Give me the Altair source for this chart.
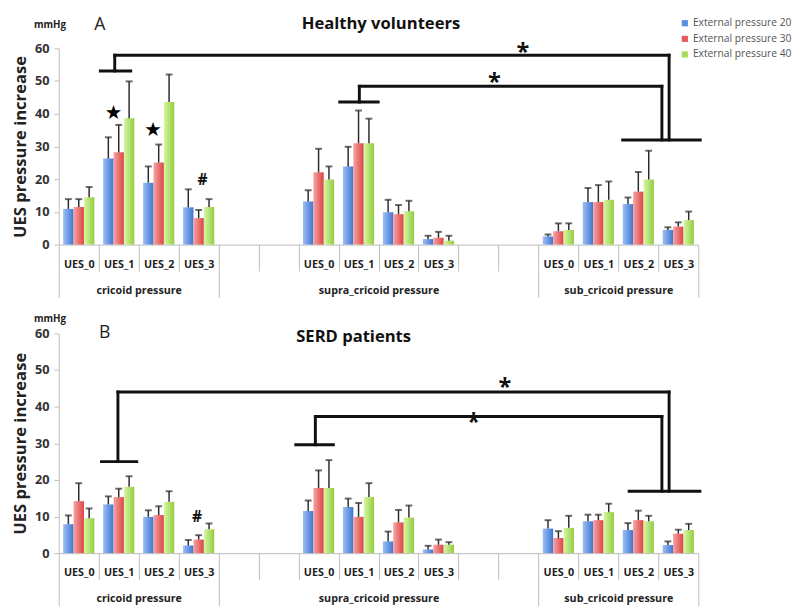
import json
import altair as alt
import pandas as pd

# ---------------- data ----------------
slots = ["c0", "c1", "c2", "c3", "e1", "e2", "p0", "p1", "p2", "p3", "e3", "e4", "s0", "s1", "s2", "s3"]
slot_labels = ["UES_0", "UES_1", "UES_2", "UES_3", "", "", "UES_0", "UES_1", "UES_2", "UES_3",
               "", "", "UES_0", "UES_1", "UES_2", "UES_3"]
data_slots = [s for s in slots if not s.startswith("e")]
series = ["External pressure 20", "External pressure 30", "External pressure 40"]
groups = ["cricoid pressure", "supra_cricoid pressure", "sub_cricoid pressure"]
group_centers = [2, 8, 14]
group_bounds = [0, 4, 12, 16]

# Healthy volunteers: means and mean+SD (order: cricoid 0-3, supra 0-3, sub 0-3)
h20 = [10.9, 26.3, 18.9, 11.4, 13.2, 23.9, 9.9, 1.7, 2.5, 13.0, 12.4, 4.5]
h20_up = [13.9, 32.8, 23.9, 16.9, 16.6, 29.9, 13.7, 2.7, 3.1, 17.3, 14.4, 5.3]
h30 = [11.5, 28.2, 25.1, 8.1, 22.1, 31.0, 9.3, 2.1, 4.1, 13.0, 16.2, 5.5]
h30_up = [13.9, 36.6, 30.6, 10.6, 29.3, 41.0, 12.1, 3.9, 6.5, 18.2, 22.2, 6.8]
h40 = [14.5, 38.6, 43.6, 11.5, 19.9, 31.0, 10.2, 1.2, 4.5, 13.7, 19.9, 7.5]
h40_up = [17.6, 49.9, 52.0, 13.9, 23.9, 38.5, 13.4, 2.7, 6.5, 19.3, 28.7, 10.1]

# SERD patients
s20 = [7.9, 13.3, 9.9, 2.1, 11.5, 12.6, 3.2, 1.0, 6.7, 8.7, 6.3, 2.2]
s20_up = [10.3, 15.5, 11.7, 3.6, 14.4, 14.9, 5.9, 2.0, 9.0, 10.5, 8.2, 3.2]
s30 = [14.2, 15.3, 10.4, 3.7, 17.8, 9.9, 8.4, 2.3, 4.1, 9.0, 9.0, 5.3]
s30_up = [19.1, 17.6, 12.8, 4.9, 22.6, 13.7, 11.8, 3.7, 6.0, 10.5, 11.6, 6.4]
s40 = [9.5, 18.1, 14.0, 6.5, 17.8, 15.3, 9.7, 2.3, 6.9, 11.2, 8.7, 6.3]
s40_up = [12.2, 21.0, 16.9, 8.1, 25.4, 19.1, 13.0, 3.0, 10.2, 13.5, 10.2, 8.0]

# significance brackets (slot units on x, mmHg on y)
top_x1 = [1.04, 1.40, 1.40, 15.27, 7.03, 7.52, 7.52, 15.09, 14.11]
top_y1 = [53.1, 53.1, 57.9, 57.9, 43.6, 43.6, 48.4, 48.4, 32.0]
top_x2 = [1.80, 1.40, 15.27, 15.27, 7.99, 7.52, 15.09, 15.09, 16.05]
top_y2 = [53.1, 57.9, 57.9, 32.0, 43.6, 48.4, 48.4, 32.0, 32.0]

bot_x1 = [1.07, 1.48, 1.48, 15.27, 5.93, 6.42, 6.42, 15.09, 14.27]
bot_y1 = [25.0, 25.0, 44.0, 44.0, 29.6, 29.6, 37.3, 37.3, 16.9]
bot_x2 = [1.95, 1.48, 15.27, 15.27, 6.87, 6.42, 15.09, 15.09, 16.04]
bot_y2 = [25.0, 44.0, 44.0, 16.9, 29.6, 37.3, 37.3, 16.9, 16.9]

top_star_x = [1.37, 2.36]
top_star_y = [40.3, 35.1]
top_hash_x = [3.6]
top_hash_y = [19.9]
top_ast_x = [11.61, 10.90]
top_ast_y = [60.2, 51.2]

bot_star_x = []
bot_star_y = []
bot_hash_x = [3.46]
bot_hash_y = [10.2]
bot_ast_x = [11.16, 10.38]
bot_ast_y = [46.7, 37.1]

solid = ["#5a8fe0", "#e85a5a", "#a8dc5a"]
grads = [("#9cc0f5", "#3f74d0"), ("#f7a3a3", "#dc4444"), ("#d8f7a6", "#93cc3f")]

FONT = "Open Sans"
W = 655
BW = 0.26      # bar width in slot units
GRID = "#bdbdbd"

group_label_at = [""] * 16
for gc, g in zip(group_centers, groups):
    group_label_at[gc] = g


def gradient(c0, c1):
    return alt.Gradient(gradient="linear", x1=0, x2=1, y1=0, y2=0,
                        stops=[alt.GradientStop(offset=0, color=c0),
                               alt.GradientStop(offset=1, color=c1)])


def bars_df(means, ups):
    rows = []
    for si in range(3):
        for slot, m, u in zip(data_slots, means[si], ups[si]):
            rows.append({"slot": slot, "slot_i": slots.index(slot), "series": series[si],
                         "ser_i": si, "mean": m, "upper": u})
    return pd.DataFrame(rows)


def panel(means, ups, seg, stars, hashes, asts, title, title_xy, letter, letter_xy,
          mmhg_y, height, legend):
    df = bars_df(means, ups)
    yscale = alt.Scale(domain=[0, 60], nice=False, zero=True)
    xscale = alt.Scale(domain=[0, 16], nice=False, zero=False)

    ax_bounds = alt.Axis(orient="bottom", values=list(range(17)), tickSize=27, tickColor=GRID,
                         domainColor=GRID, labels=False, grid=False, title=None)
    ax_labels = alt.Axis(orient="bottom", values=[i + 0.5 for i, s in enumerate(slots) if s[0] != "e"],
                         ticks=False, tickSize=0, domain=False, grid=False, title=None,
                         labelPadding=14, labelFont=FONT, labelFontSize=11, labelFontWeight="bold",
                         labelColor="#222", labelAngle=0,
                         labelExpr=json.dumps(slot_labels) + "[floor(datum.value)]")
    ax_gticks = alt.Axis(orient="bottom", offset=27, values=group_bounds, tickSize=27,
                         tickColor=GRID, labels=False, domain=False, grid=False, title=None)
    ax_glabels = alt.Axis(orient="bottom", offset=27, values=group_centers, ticks=False, tickSize=0,
                          domain=False, grid=False, title=None, labelPadding=14,
                          labelFont=FONT, labelFontSize=11, labelFontWeight="bold",
                          labelColor="#222", labelAngle=0,
                          labelExpr=json.dumps(group_label_at) + "[floor(datum.value)]")
    x_axes = [ax_bounds, ax_labels, ax_gticks, ax_glabels]

    y_axis = alt.Axis(orient="left", title="UES pressure increase", values=[0, 10, 20, 30, 40, 50, 60],
                      grid=False, tickSize=5, tickColor=GRID, domainColor=GRID,
                      labelFont=FONT, labelFontSize=13, labelFontWeight="bold", labelColor="#333",
                      labelPadding=5, titleFont=FONT, titleFontSize=17, titleFontWeight="bold",
                      titleColor="#222", titlePadding=5)

    base = alt.Chart(df).transform_calculate(
        xc=f"datum.slot_i + 0.5 + (datum.ser_i - 1) * {BW}",
        xl=f"datum.slot_i + 0.5 + (datum.ser_i - 1) * {BW} - {BW / 2}",
        xr=f"datum.slot_i + 0.5 + (datum.ser_i - 1) * {BW} + {BW / 2}",
    )
    layers = []
    for i, s in enumerate(series):
        layers.append(
            base.transform_filter(alt.datum.series == s)
            .mark_bar(color=gradient(*grads[i]))
            .encode(x=alt.X("xl:Q", scale=xscale, axis=x_axes[i]), x2="xr:Q",
                    y=alt.Y("mean:Q", scale=yscale, axis=y_axis if i == 0 else None),
                    y2=alt.datum(0))
        )
    layers.append(
        base.mark_rule(color="#2a2a2a", strokeWidth=1.5).encode(
            x=alt.X("xc:Q", scale=xscale, axis=x_axes[3]),
            y=alt.Y("mean:Q", scale=yscale, axis=None), y2="upper:Q")
    )
    layers.append(
        base.mark_tick(color="#2a2a2a", thickness=2, size=7, orient="horizontal").encode(
            x=alt.X("xc:Q", scale=xscale, axis=None),
            y=alt.Y("upper:Q", scale=yscale, axis=None))
    )
    if legend:
        layers.append(
            base.mark_square(opacity=0).encode(
                x=alt.X("xc:Q", scale=xscale, axis=None),
                y=alt.Y("mean:Q", scale=yscale, axis=None),
                color=alt.Color("series:N", scale=alt.Scale(domain=series, range=solid),
                                legend=alt.Legend(orient="none", legendX=636, legendY=-31,
                                                  title=None, symbolType="square", symbolSize=40,
                                                  symbolOpacity=1, symbolStrokeWidth=0,
                                                  labelFont=FONT, labelFontSize=10.5,
                                                  labelColor="#555", rowPadding=5,
                                                  labelOffset=3)))
        )

    segdf = pd.DataFrame({"x1": seg[0], "y1": seg[1], "x2": seg[2], "y2": seg[3]})
    layers.append(alt.Chart(segdf).mark_rule(color="#111", strokeWidth=3, strokeCap="square").encode(
        x=alt.X("x1:Q", scale=xscale, axis=None), x2="x2:Q",
        y=alt.Y("y1:Q", scale=yscale, axis=None), y2="y2:Q"))
    if stars[0]:
        sdf = pd.DataFrame({"x": stars[0], "y": stars[1]})
        layers.append(alt.Chart(sdf).mark_text(text="★", font="DejaVu Sans", fontSize=20,
                                               color="#000", baseline="middle").encode(
            x=alt.X("x:Q", scale=xscale, axis=None), y=alt.Y("y:Q", scale=yscale, axis=None)))
    hdf = pd.DataFrame({"x": hashes[0], "y": hashes[1]})
    layers.append(alt.Chart(hdf).mark_text(text="#", font=FONT, fontSize=16, fontWeight="bold",
                                           color="#111", baseline="middle", dy=1).encode(
        x=alt.X("x:Q", scale=xscale, axis=None), y=alt.Y("y:Q", scale=yscale, axis=None)))
    adf = pd.DataFrame({"x": asts[0], "y": asts[1]})
    layers.append(alt.Chart(adf).mark_text(text="*", font=FONT, fontSize=24, fontWeight="bold",
                                           color="#111", baseline="alphabetic", dy=13).encode(
        x=alt.X("x:Q", scale=xscale, axis=None), y=alt.Y("y:Q", scale=yscale, axis=None)))
    one = pd.DataFrame({"t": [title]})
    layers.append(alt.Chart(one).mark_text(text=title, font=FONT, fontSize=17, fontWeight="bold",
                                           color="#111", baseline="middle").encode(
        x=alt.value(title_xy[0]), y=alt.value(title_xy[1])))
    layers.append(alt.Chart(one).mark_text(text=letter, font=FONT, fontSize=18, color="#222",
                                           baseline="middle").encode(
        x=alt.value(letter_xy[0]), y=alt.value(letter_xy[1])))
    layers.append(alt.Chart(one).mark_text(text="mmHg", font=FONT, fontSize=10, fontWeight="bold",
                                           color="#222", baseline="middle").encode(
        x=alt.value(-9), y=alt.value(mmhg_y)))

    return (alt.layer(*layers)
            .resolve_axis(x="independent", y="independent")
            .properties(width=W, height=height))


top = panel([h20, h30, h40], [h20_up, h30_up, h40_up],
            (top_x1, top_y1, top_x2, top_y2), (top_star_x, top_star_y),
            (top_hash_x, top_hash_y), (top_ast_x, top_ast_y),
            "Healthy volunteers", (330, -25), "A", (42, -24), -24, 201, True)
bottom = panel([s20, s30, s40], [s20_up, s30_up, s40_up],
               (bot_x1, bot_y1, bot_x2, bot_y2), (bot_star_x, bot_star_y),
               (bot_hash_x, bot_hash_y), (bot_ast_x, bot_ast_y),
               "SERD patients", (302, 4), "B", (47, 0), -15, 225, False)

chart = alt.vconcat(top, bottom, spacing=16).properties(
    padding={"left": 4, "top": 0, "right": 0, "bottom": 0}
).configure(background="white").configure_view(stroke=None)

chart.save("out.html", embed_options={"renderer": "svg", "actions": False})
